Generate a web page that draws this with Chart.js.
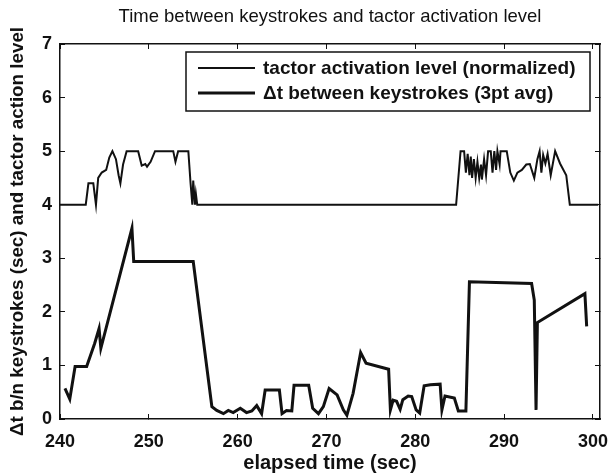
<!DOCTYPE html>
<html>
<head>
<meta charset="utf-8">
<script src="https://cdn.jsdelivr.net/npm/chart.js@4/dist/chart.umd.min.js"></script>
<style>
  html, body { margin: 0; padding: 0; background: #fff; }
  #wrap { width: 610px; height: 473px; }
</style>
</head>
<body>
<div id="wrap"><canvas id="chart"></canvas></div>
<script>
// tactor activation level (normalized)
const tactorTime = [240, 242.9, 243.2, 243.75, 244.05, 244.3, 244.7, 245.2, 245.55, 245.9, 246.3, 246.6, 246.8, 247.1, 247.5, 248.8, 249.2, 249.6, 249.8, 250.2, 250.7, 252.75, 253.0, 253.3, 254.45, 254.7, 254.9, 255.0, 255.2, 255.3, 255.45,
  284.6, 285.1, 285.5, 285.7, 285.9, 286.1, 286.25, 286.4, 286.6, 286.8, 287.0, 287.2, 287.4, 287.5, 287.75, 287.97, 288.2, 288.5, 288.7, 288.9, 289.1, 289.25, 289.5, 289.6, 290.3, 290.7, 291.1, 291.5, 292.0, 292.5, 292.9, 293.4, 293.75, 294.0, 294.2, 294.4, 294.65, 294.9, 295.25, 295.75, 296.3, 297.0, 297.4, 300.6];
const tactorLevel = [4, 4, 4.4, 4.4, 4.0, 4.5, 4.6, 4.65, 4.88, 5.0, 4.85, 4.55, 4.4, 4.75, 5.0, 5.0, 4.73, 4.76, 4.71, 4.8, 5.0, 5.0, 4.8, 5.0, 5.0, 4.4, 4.0, 4.45, 4.0, 4.2, 4.0,
  4.0, 5.0, 5.0, 4.6, 4.95, 4.55, 4.9, 4.5, 4.85, 4.5, 4.8, 4.5, 4.75, 4.47, 4.85, 4.55, 5.0, 5.0, 4.6, 5.0, 4.65, 5.0, 4.75, 5.0, 5.0, 4.6, 4.45, 4.6, 4.65, 4.75, 4.76, 4.5, 4.85, 5.0, 4.6, 4.93, 4.77, 4.95, 4.55, 5.0, 4.77, 4.55, 4.0, 4.0];

// time between keystrokes (3pt avg)
const dtTime = [240.56, 241.1, 241.7, 243.0, 243.9, 244.4, 244.6, 248.1, 248.3, 255.0, 257.1, 257.65, 258.4, 258.95, 259.5, 260.3, 261.0, 261.6, 262.15, 262.7, 263.1, 264.7, 265.0, 265.5, 266.1, 266.35, 268.0, 268.45, 269.1, 269.65, 270.3,
  271.2, 271.9, 272.3, 273.0, 273.85, 274.46, 277.0, 277.2, 277.5, 277.9, 278.3, 278.6, 279.2, 279.6, 280.1, 280.5, 281.0, 281.7, 282.8, 283.0, 283.35, 284.4, 284.85, 285.7, 286.1, 293.1, 293.4, 293.6, 293.75, 299.1, 299.3];
const dtValue = [0.57, 0.37, 0.98, 0.98, 1.41, 1.69, 1.32, 3.56, 2.94, 2.94, 0.23, 0.16, 0.1, 0.16, 0.12, 0.2, 0.12, 0.15, 0.25, 0.1, 0.54, 0.54, 0.1, 0.16, 0.15, 0.63, 0.63, 0.2, 0.1, 0.23, 0.57,
  0.45, 0.17, 0.07, 0.48, 1.24, 1.04, 0.93, 0.17, 0.35, 0.33, 0.18, 0.36, 0.43, 0.42, 0.17, 0.11, 0.62, 0.64, 0.65, 0.17, 0.43, 0.39, 0.15, 0.15, 2.56, 2.53, 2.22, 0.17, 1.8, 2.34, 1.73];

const xTicks = [240, 250, 260, 270, 280, 290, 300];
const yTicks = [0, 1, 2, 3, 4, 5, 6, 7];
const seriesLabels = ['tactor activation level (normalized)', '\u0394t between keystrokes (3pt avg)'];

const FONT = "'Liberation Sans', Arial, Helvetica, sans-serif";
const INK = '#111';

const toPoints = (xs, ys) => xs.map((x, i) => ({ x, y: ys[i] }));

// matlab style legend box in upper right of the axes
const legendBox = {
  id: 'legendBox',
  afterDraw(chart) {
    const { ctx, chartArea } = chart;
    const w = 404, h = 59;
    const x0 = chartArea.right - 10 - w;
    const y0 = chartArea.top + 8;
    ctx.save();
    ctx.fillStyle = '#fff';
    ctx.fillRect(x0, y0, w, h);
    ctx.strokeStyle = INK;
    ctx.lineWidth = 1.5;
    ctx.strokeRect(x0, y0, w, h);
    ctx.font = 'bold 19px ' + FONT;
    ctx.textBaseline = 'middle';
    ctx.fillStyle = INK;
    chart.data.datasets.forEach((ds, i) => {
      const y = y0 + 16 + i * 25;
      ctx.beginPath();
      ctx.lineWidth = ds.borderWidth;
      ctx.moveTo(x0 + 12, y);
      ctx.lineTo(x0 + 69, y);
      ctx.stroke();
      ctx.fillText(ds.label, x0 + 77, y + 1);
    });
    ctx.restore();
  }
};

// fixed axis box sizes, no extra room for overhanging tick labels
const fixSize = (w, h) => s => {
  if (w !== null) s.width = w;
  if (h !== null) s.height = h;
  s.paddingLeft = 0; s.paddingRight = 0; s.paddingTop = 0; s.paddingBottom = 0;
};

const tickGrid = { drawOnChartArea: false, drawTicks: true, tickLength: -5, color: INK, lineWidth: 1 };
const axisBorder = { display: true, color: INK, width: 1.5 };

new Chart(document.getElementById('chart'), {
  type: 'line',
  data: {
    datasets: [
      {
        label: seriesLabels[0],
        data: toPoints(tactorTime, tactorLevel),
        borderColor: INK,
        borderWidth: 2,
        pointRadius: 0,
        tension: 0
      },
      {
        label: seriesLabels[1],
        data: toPoints(dtTime, dtValue),
        borderColor: INK,
        borderWidth: 3,
        pointRadius: 0,
        tension: 0
      }
    ]
  },
  options: {
    responsive: true,
    maintainAspectRatio: false,
    animation: false,
    events: [],
    layout: { padding: 0 },
    plugins: {
      legend: { display: false },
      tooltip: { enabled: false },
      title: { display: false }
    },
    scales: {
      x: {
        type: 'linear',
        position: 'bottom',
        min: 240,
        max: 300.8,
        afterBuildTicks: s => { s.ticks = xTicks.map(v => ({ value: v })); },
        afterFit: fixSize(null, 54),
        grid: tickGrid,
        border: axisBorder,
        ticks: { color: INK, padding: 17, maxRotation: 0, font: { family: FONT, size: 18, weight: 'bold' } },
        title: {
          display: true,
          text: 'elapsed time (sec)',
          color: INK,
          padding: 0,
          font: { family: FONT, size: 20, weight: 'bold', lineHeight: 1 }
        }
      },
      x2: {
        type: 'linear',
        position: 'top',
        min: 240,
        max: 300.8,
        afterBuildTicks: s => { s.ticks = xTicks.map(v => ({ value: v })); },
        afterFit: fixSize(null, 44),
        grid: tickGrid,
        border: axisBorder,
        ticks: { display: false },
        title: {
          display: true,
          text: 'Time between keystrokes and tactor activation level',
          color: INK,
          padding: { top: 8, bottom: 0 },
          font: { family: FONT, size: 18.5, weight: 'normal', lineHeight: 1 }
        }
      },
      y: {
        type: 'linear',
        position: 'left',
        min: 0,
        max: 7,
        afterBuildTicks: s => { s.ticks = yTicks.map(v => ({ value: v })); },
        afterFit: fixSize(60, null),
        grid: tickGrid,
        border: axisBorder,
        ticks: { color: INK, padding: 13, font: { family: FONT, size: 18, weight: 'bold' } },
        title: {
          display: true,
          text: '\u0394t b/n keystrokes (sec) and tactor action level',
          color: INK,
          padding: { top: 8, bottom: 0 },
          font: { family: FONT, size: 18.8, weight: 'bold', lineHeight: 1 }
        }
      },
      y2: {
        type: 'linear',
        position: 'right',
        min: 0,
        max: 7,
        afterBuildTicks: s => { s.ticks = yTicks.map(v => ({ value: v })); },
        afterFit: fixSize(10, null),
        grid: tickGrid,
        border: axisBorder,
        ticks: { display: false }
      }
    }
  },
  plugins: [legendBox]
});
</script>
</body>
</html>
